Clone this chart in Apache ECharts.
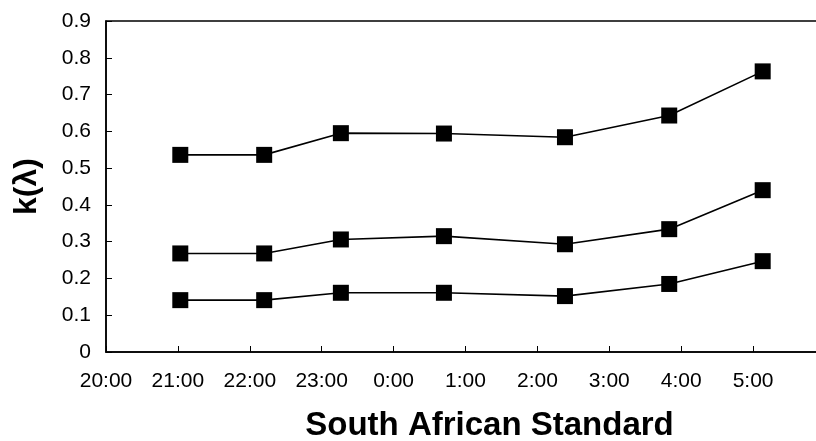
<!DOCTYPE html>
<html>
<head>
<meta charset="utf-8">
<script src="https://cdn.jsdelivr.net/npm/echarts@6/dist/echarts.min.js"></script>
<style>
html,body{margin:0;padding:0;background:#fff;}
#chart{width:816px;height:441px;}
</style>
</head>
<body>
<div id="chart"></div>
<script>
// Sample times (South African Standard Time)
var times = ["21:02", "22:12", "23:16", "0:42", "2:23", "3:50", "5:08"];
// k(lambda) series values
var seriesUpper = [0.536, 0.536, 0.595, 0.594, 0.584, 0.643, 0.763];
var seriesMiddle = [0.268, 0.268, 0.306, 0.315, 0.293, 0.334, 0.440];
var seriesLower = [0.141, 0.141, 0.161, 0.161, 0.152, 0.185, 0.247];
// x-axis tick labels (hours starting 20:00)
var xTickLabels = ["20:00", "21:00", "22:00", "23:00", "0:00", "1:00", "2:00", "3:00", "4:00", "5:00", "6:00"];
var yTickLabels = ["0", "0.1", "0.2", "0.3", "0.4", "0.5", "0.6", "0.7", "0.8", "0.9"];

function hoursFrom20(t) {
  var p = t.split(":");
  var h = parseInt(p[0], 10), m = parseInt(p[1], 10);
  var v = h + m / 60 - 20;
  if (v < 0) v += 24;
  return v;
}
function pairs(vals) {
  return vals.map(function (v, i) { return [hoursFrom20(times[i]), v]; });
}
var font = "'Liberation Sans', Arial, sans-serif";
function mkSeries(vals) {
  return {
    type: 'line',
    data: pairs(vals),
    symbol: 'rect',
    symbolSize: 16,
    itemStyle: { color: '#000' },
    lineStyle: { color: '#000', width: 1.6 },
    animation: false
  };
}
var chart = echarts.init(document.getElementById('chart'));
chart.setOption({
  backgroundColor: '#fff',
  animation: false,
  grid: { left: 106, top: 21, width: 719, height: 331, containLabel: false, outerBoundsMode: 'none', show: true, borderColor: '#000', borderWidth: 1.5, backgroundColor: 'transparent' },
  xAxis: {
    type: 'value', min: 0, max: 10, interval: 1,
    name: 'South African Standard',
    nameLocation: 'middle', nameGap: 57,
    nameTextStyle: { fontFamily: font, fontWeight: 'bold', fontSize: 33, color: '#000', padding: [0, 0, 0, 48] },
    axisLine: { lineStyle: { color: '#000', width: 1.5 } },
    axisTick: { inside: true, length: 6, lineStyle: { color: '#000', width: 1 } },
    axisLabel: {
      margin: 19, fontFamily: font, fontSize: 21, color: '#000',
      showMaxLabel: false,
      formatter: function (v) { return v >= 10 ? '' : xTickLabels[Math.round(v)]; }
    },
    splitLine: { show: false }
  },
  yAxis: {
    type: 'value', min: 0, max: 0.9, interval: 0.1,
    name: 'k(λ)',
    nameLocation: 'middle', nameGap: 63,
    nameTextStyle: { fontFamily: font, fontWeight: 'bold', fontSize: 32, color: '#000' },
    axisLine: { show: true, lineStyle: { color: '#000', width: 1.5 } },
    axisTick: { show: true, inside: true, length: 6, lineStyle: { color: '#000', width: 1 } },
    axisLabel: {
      margin: 15, fontFamily: font, fontSize: 21, color: '#000',
      formatter: function (v) { return yTickLabels[Math.round(v * 10)]; }
    },
    splitLine: { show: false }
  },
  series: [mkSeries(seriesUpper), mkSeries(seriesMiddle), mkSeries(seriesLower)]
});
</script>
</body>
</html>
